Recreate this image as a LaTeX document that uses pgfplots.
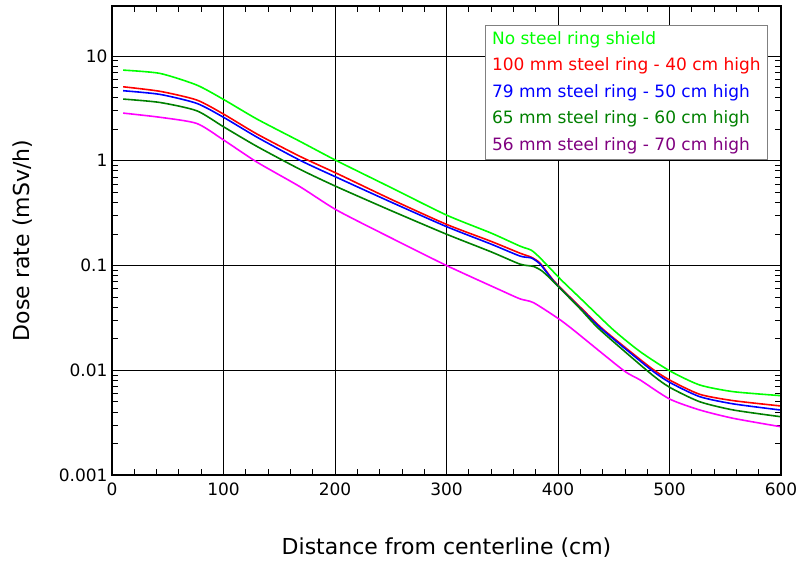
\documentclass[border=0pt]{standalone}
\usepackage{pgfplots}
\pgfplotsset{compat=1.18}
\usepackage{pgfplotstable}
\usepackage{fontspec}
\setmainfont{DejaVu Sans}
\definecolor{lgreen}{RGB}{0,255,0}
\definecolor{dgreen}{RGB}{0,128,0}
\definecolor{mag}{RGB}{255,0,255}
\definecolor{purp}{RGB}{128,0,128}
\definecolor{bl}{RGB}{0,0,255}
\definecolor{rd}{RGB}{255,0,0}

\pgfplotstableread{
x y
10 7.33
43 6.82
76 5.28
100 3.85
130 2.5
168.6 1.53
201.5 1.0
250 0.556
300 0.303
340 0.204
366 0.153
376 0.14
384 0.118
403 0.0727
420 0.0487
449.6 0.0243
473.5 0.0151
500 0.0099
527 0.00724
557 0.00625
599 0.00573
}\noshield

\pgfplotstableread{
x y
10 5.08
43 4.6
76 3.8
100 2.79
130 1.8
168.6 1.1
201.5 0.758
250 0.43
300 0.247
340 0.17
366 0.131
376 0.12
384 0.105
397 0.070
420 0.040
441 0.0243
482 0.0108
500 0.00808
527 0.0059
557 0.00513
599 0.00457
}\ringA

\pgfplotstableread{
x y
10 4.66
43 4.3
76 3.53
100 2.6
130 1.68
168.6 1.01
201.5 0.694
250 0.404
300 0.235
340 0.16
366 0.123
376 0.118
384 0.103
397 0.069
420 0.039
440 0.0243
482 0.0104
500 0.00768
527 0.0056
557 0.00478
599 0.00418
}\ringB

\pgfplotstableread{
x y
10 3.88
43 3.6
76 3.0
100 2.11
130 1.37
168.6 0.828
201.5 0.565
250 0.335
300 0.199
340 0.135
366 0.103
378 0.098
386 0.088
396 0.070
420 0.0385
437.7 0.0243
482 0.0095
500 0.00689
527 0.00501
557 0.00418
599 0.00361
}\ringC

\pgfplotstableread{
x y
10 2.85
43 2.6
76 2.27
100 1.58
130 0.97
168.6 0.565
201.5 0.338
250 0.184
300 0.1
348 0.0584
366 0.048
378 0.0442
400 0.0313
413.7 0.0243
458.6 0.01
473.5 0.0081
500 0.00532
527 0.00418
557 0.00348
599 0.0029
}\ringD

\begin{document}
\begin{tikzpicture}
\useasboundingbox (-112pt,-91pt) rectangle (685pt,475pt);
\begin{axis}[
  scale only axis, width=669pt, height=469pt,
  xmin=0, xmax=600, ymin=0.001, ymax=30, ymode=log,
  xtick={0,100,...,600}, minor x tick num=4,
  ytick={0.001,0.01,0.1,1,10},
  yticklabels={0.001,0.01,0.1,1,10},
  xticklabels={0,100,200,300,400,500,600},
  tick align=inside,
  xtick pos=both, ytick pos=both,
  grid=major, major grid style={black, line width=0.8pt},
  axis line style={line width=1.5pt},
  major tick length=10pt, minor tick length=6pt,
  tick style={black, line width=0.8pt},
  /pgf/number format/assume math mode=true,
  tick label style={font=\fontsize{17}{20}\selectfont},
  xticklabel style={yshift=-4pt},
  yticklabel style={xshift=-1pt},
  label style={font=\fontsize{22}{26}\selectfont},
  xlabel={Distance from centerline (cm)},
  ylabel={Dose rate (mSv/h)},
  xlabel style={at={(axis description cs:0.5,-0.155)}, anchor=center},
  ylabel style={at={(axis description cs:-0.134,0.5)}, anchor=center},
  every axis plot/.append style={line width=1.6pt, smooth, tension=0.4},
]
\addplot[lgreen] table {\noshield};
\addplot[rd] table {\ringA};
\addplot[bl] table {\ringB};
\addplot[dgreen] table {\ringC};
\addplot[mag] table {\ringD};
\node[draw=gray, fill=white, line width=1.2pt, anchor=north east, align=left,
  inner xsep=7pt, inner ysep=6pt, font=\fontsize{17}{26.5}\selectfont]
  at (rel axis cs:0.981,0.96)
  {\textcolor{lgreen}{No steel ring shield}\\
   \textcolor{rd}{100 mm steel ring - 40 cm high}\\
   \textcolor{bl}{79 mm steel ring - 50 cm high}\\
   \textcolor{dgreen}{65 mm steel ring - 60 cm high}\\
   \textcolor{purp}{56 mm steel ring - 70 cm high}};
\end{axis}
\end{tikzpicture}
\end{document}
